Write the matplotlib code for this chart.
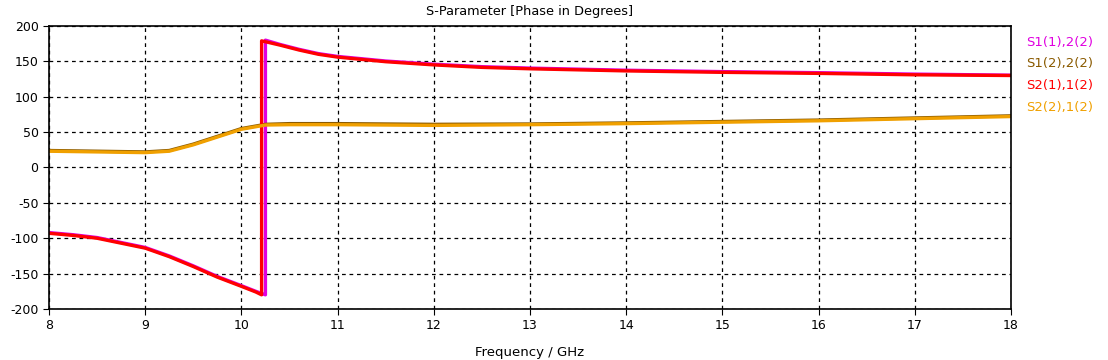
import matplotlib
matplotlib.use('Agg')
import matplotlib.pyplot as plt

# S1(1),2(2) - magenta, jumps at ~10.25 GHz
freq_s12 = [8.0, 8.25, 8.5, 8.75, 9.0, 9.25, 9.5, 9.75, 10.0, 10.15, 10.25,
            10.25, 10.4, 10.6, 10.8, 11.0, 11.5, 12.0, 12.5, 13.0, 14.0,
            15.0, 16.0, 17.0, 18.0]
phase_s12 = [-92, -95, -99, -106, -113, -125, -139, -154, -167, -175, -180,
             180, 174, 167, 161, 157, 150.5, 146, 142.5, 140.5, 137.5, 135.5,
             134, 132, 130.5]

# S2(1),1(2) - red, jumps at ~10.21 GHz
freq_s21 = [8.0, 8.25, 8.5, 8.75, 9.0, 9.25, 9.5, 9.75, 10.0, 10.15, 10.21,
            10.21, 10.4, 10.6, 10.8, 11.0, 11.5, 12.0, 12.5, 13.0, 14.0,
            15.0, 16.0, 17.0, 18.0]
phase_s21 = [-93, -96, -100, -107, -114, -126, -140, -155, -168, -176, -180,
             179, 173, 166, 160, 156, 149.5, 145, 141.5, 139.5, 136.5, 134.5,
             133, 131, 130]

# S1(2),2(2) - brown
freq_mid = [8.0, 8.5, 9.0, 9.25, 9.5, 9.75, 10.0, 10.25, 10.5, 11.0, 12.0,
            13.0, 14.0, 15.0, 16.0, 17.0, 18.0]
phase_s12b = [24, 23, 22, 24, 33, 44, 55, 61, 62, 62, 61, 61.5, 63, 65, 67,
              70, 73]
# S2(2),1(2) - orange
phase_s21b = [23, 22, 21, 23, 32, 43, 54, 60, 60.5, 60.5, 59.5, 60.5, 62,
              64, 66, 69, 72]

labels = ["S1(1),2(2)", "S1(2),2(2)", "S2(1),1(2)", "S2(2),1(2)"]
colors = ["#e000e0", "#8a5a00", "#ff0000", "#f0a000"]

plt.rcParams['font.family'] = ['DejaVu Sans']
plt.rcParams['axes.unicode_minus'] = False
fig = plt.figure(figsize=(11.08, 3.6), dpi=100)
ax = fig.add_axes([0.0442, 0.1417, 0.8683, 0.7861])

ax.plot(freq_s12, phase_s12, color=colors[0], lw=2.4)
ax.plot(freq_mid, phase_s12b, color=colors[1], lw=2.4)
ax.plot(freq_s21, phase_s21, color=colors[2], lw=2.4)
ax.plot(freq_mid, phase_s21b, color=colors[3], lw=2.4)

ax.set_xlim(8, 18)
ax.set_ylim(-200, 200)
ax.set_xticks(range(8, 19))
ax.set_yticks(range(-200, 201, 50))
ax.grid(True, color='black', linestyle=(0, (3, 3)), linewidth=0.9)
ax.tick_params(labelsize=9, length=4, direction='out')
for s in ax.spines.values():
    s.set_linewidth(1.2)

ax.set_title("S-Parameter [Phase in Degrees]", fontsize=9.3, pad=8)
ax.set_xlabel("Frequency / GHz", fontsize=9.5, labelpad=10)

for i, (lab, c) in enumerate(zip(labels, colors)):
    fig.text(0.926, 0.883 - i * 0.0603, lab, color=c, fontsize=9.5,
             ha='left', va='center')

fig.savefig('out.png', dpi=100)
